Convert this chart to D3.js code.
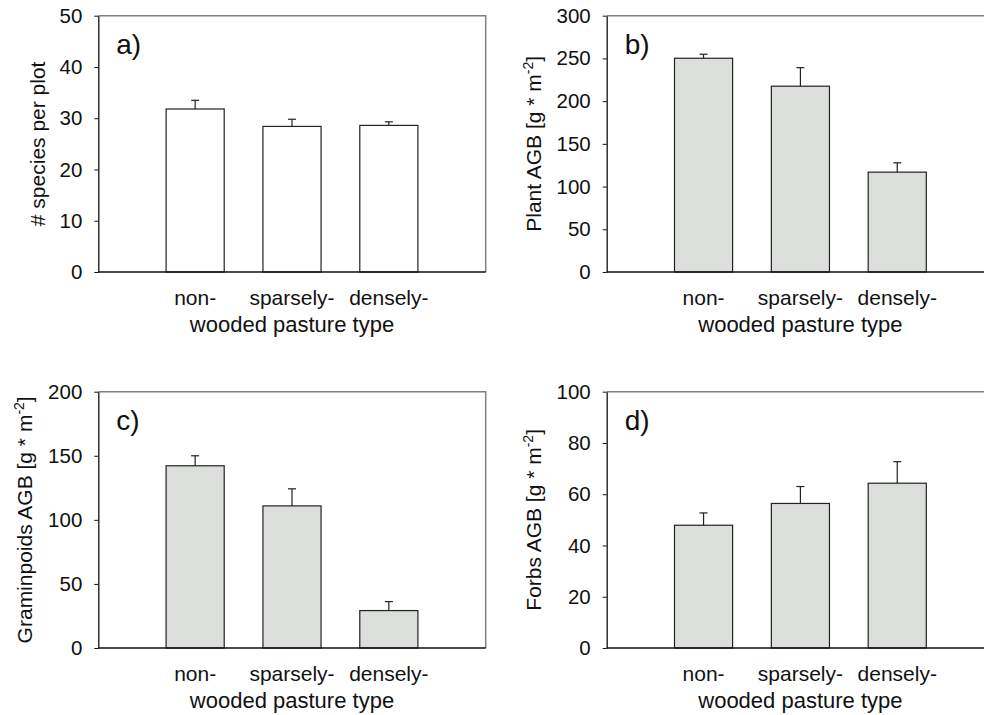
<!DOCTYPE html>
<html>
<head>
<meta charset="utf-8">
<script src="https://cdn.jsdelivr.net/npm/d3@7"></script>
<style>
  html, body { margin: 0; padding: 0; background: #fff; }
  svg { display: block; font-family: "Liberation Sans", Arial, sans-serif; }
</style>
</head>
<body>
<svg id="chart" width="984" height="715"></svg>
<script>
// categories on the x axis
const categories = ["non-", "sparsely-", "densely-"];
const xTitle = "wooded pasture type";

// a) species richness
const speciesMean = [31.8, 28.4, 28.6];
const speciesSE = [1.7, 1.4, 0.7];
const speciesTicks = [0, 10, 20, 30, 40, 50];

// b) plant above-ground biomass
const plantMean = [250.2, 217.5, 116.9];
const plantSE = [4.7, 21.7, 10.9];
const plantTicks = [0, 50, 100, 150, 200, 250, 300];

// c) graminoids biomass
const gramMean = [142.2, 110.9, 29.2];
const gramSE = [7.8, 13.3, 7.0];
const gramTicks = [0, 50, 100, 150, 200];

// d) forbs biomass
const forbMean = [47.9, 56.4, 64.3];
const forbSE = [4.8, 6.6, 8.4];
const forbTicks = [0, 20, 40, 60, 80, 100];

const panels = [
  { tag: "a)", mean: speciesMean, se: speciesSE, ticks: speciesTicks, title: "# species per plot", sup: null,
    left: 98.3, top: 15.7, fill: "#ffffff", titleX: -53 },
  { tag: "b)", mean: plantMean, se: plantSE, ticks: plantTicks, title: "Plant AGB [g * m", sup: "-2",
    left: 606.7, top: 15.7, fill: "#dcdedc", titleX: -66 },
  { tag: "c)", mean: gramMean, se: gramSE, ticks: gramTicks, title: "Graminpoids AGB [g * m", sup: "-2",
    left: 98.3, top: 391.7, fill: "#dcdedc", titleX: -66 },
  { tag: "d)", mean: forbMean, se: forbSE, ticks: forbTicks, title: "Forbs AGB [g * m", sup: "-2",
    left: 606.7, top: 391.7, fill: "#dcdedc", titleX: -66 }
];

const W = 387.4, H = 256.3;
const FS = 21;
const svg = d3.select("#chart");

panels.forEach(p => {
  const g = svg.append("g").attr("transform", `translate(${p.left},${p.top})`);

  const x = d3.scaleLinear().domain([0, 4]).range([0, W]);
  const y = d3.scaleLinear().domain([0, d3.max(p.ticks)]).range([H, 0]);
  const bw = x(0.6) - x(0);

  // frame top and right (grey)
  g.append("path")
    .attr("d", `M0,0H${W}V${H}`)
    .attr("fill", "none").attr("stroke", "#808080").attr("stroke-width", 1.5);

  // bars
  g.selectAll("rect.bar").data(p.mean).enter().append("rect")
    .attr("class", "bar")
    .attr("x", (d, i) => x(i + 1) - bw / 2)
    .attr("width", bw)
    .attr("y", d => y(d))
    .attr("height", d => H - y(d))
    .attr("fill", p.fill)
    .attr("stroke", "#222").attr("stroke-width", 1.2);

  // upper error bars
  const eb = g.selectAll("g.err").data(p.mean).enter().append("g").attr("class", "err");
  eb.append("line")
    .attr("x1", (d, i) => x(i + 1)).attr("x2", (d, i) => x(i + 1))
    .attr("y1", d => y(d)).attr("y2", (d, i) => y(d + p.se[i]))
    .attr("stroke", "#222").attr("stroke-width", 1.2);
  eb.append("line")
    .attr("x1", (d, i) => x(i + 1) - 4).attr("x2", (d, i) => x(i + 1) + 4)
    .attr("y1", (d, i) => y(d + p.se[i])).attr("y2", (d, i) => y(d + p.se[i]))
    .attr("stroke", "#222").attr("stroke-width", 1.2);

  // y axis
  const ya = g.append("g").call(d3.axisLeft(y).tickValues(p.ticks).tickSize(4).tickPadding(12).tickSizeOuter(0));
  ya.select(".domain").attr("stroke", "#111").attr("stroke-width", 1.3);
  ya.selectAll(".tick line").attr("stroke", "#111");
  ya.selectAll(".tick text").attr("font-size", 20.5).attr("fill", "#111").attr("font-family", "Liberation Sans, Arial, sans-serif");

  // x axis baseline
  g.append("line").attr("x1", 0).attr("x2", W).attr("y1", H).attr("y2", H)
    .attr("stroke", "#111").attr("stroke-width", 1.5);

  // category labels
  g.selectAll("text.cat").data(categories).enter().append("text")
    .attr("class", "cat")
    .attr("x", (d, i) => x(i + 1))
    .attr("y", H + 33)
    .attr("text-anchor", "middle")
    .attr("font-size", FS).attr("fill", "#111")
    .text(d => d);

  g.append("text")
    .attr("x", W / 2).attr("y", H + 60)
    .attr("text-anchor", "middle")
    .attr("font-size", 22).attr("fill", "#111")
    .text(xTitle);

  // y title
  const t = g.append("text")
    .attr("transform", `translate(${p.titleX},${H / 2}) rotate(-90)`)
    .attr("text-anchor", "middle")
    .attr("font-size", FS).attr("fill", "#111")
    .text(p.title);
  if (p.sup) {
    t.append("tspan").attr("dy", -8).attr("font-size", 14).text(p.sup);
    t.append("tspan").attr("dy", 8).text("]");
  }

  // panel tag
  g.append("text")
    .attr("x", 18).attr("y", 38)
    .attr("font-size", 28).attr("fill", "#111")
    .text(p.tag);
});
</script>
</body>
</html>
